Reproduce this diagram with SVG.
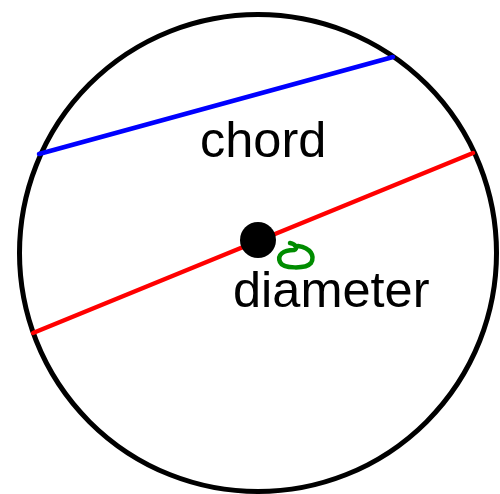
<svg xmlns="http://www.w3.org/2000/svg" width="500" height="494" viewBox="0 0 500 494">
<style>
.lbl{font-family:"Liberation Sans",Arial,sans-serif;font-size:50.5px;fill:#000}
.ln{stroke-width:4.5;stroke-linecap:round;fill:none}
</style>
<rect width="500" height="494" fill="#fff"/>
<g id="circle"><circle cx="258" cy="253" r="238.5" fill="none" stroke="#000" stroke-width="5"/></g>
<g id="connectors">
<line id="chord-line" class="ln" x1="39" y1="154" x2="393" y2="57" stroke="#0000ff"/>
<line id="diameter-line" class="ln" x1="33" y1="333" x2="473" y2="153" stroke="#ff0000"/>
</g>
<g id="center"><circle cx="258" cy="240" r="18" fill="#000"/></g>
<g id="mark"><path d="M 290 243 C 296 244, 298 249, 294 250 C 283 250, 277 255, 280 262 C 283 269, 306 269, 311 263 C 315 256, 311 248, 298 246" fill="none" stroke="#008c00" stroke-width="4.5" stroke-linecap="round"/></g>
<g id="chord-label"><text class="lbl" x="200" y="157">chord</text></g>
<g id="diameter-label"><text class="lbl" x="233" y="307">diameter</text></g>
</svg>
